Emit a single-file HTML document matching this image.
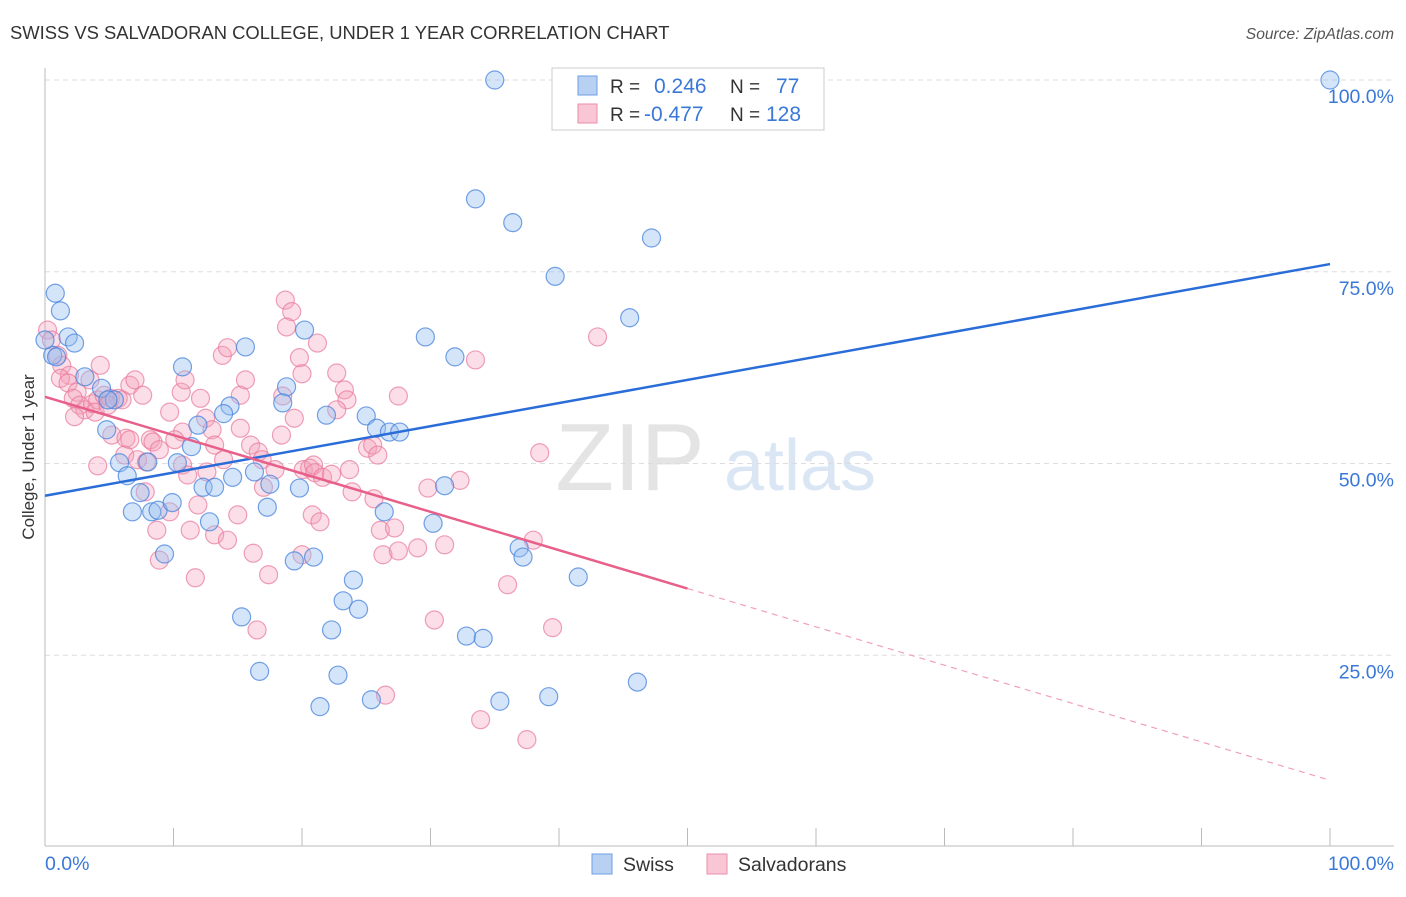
<!DOCTYPE html>
<html><head><meta charset="utf-8"><style>
body{margin:0;background:#fff;font-family:"Liberation Sans",sans-serif}
svg text{font-family:"Liberation Sans",sans-serif}
</style></head><body>
<svg id="chart" width="1406" height="892" viewBox="0 0 1406 892">
<text x="10" y="39" font-size="18.4" fill="#333">SWISS VS SALVADORAN COLLEGE, UNDER 1 YEAR CORRELATION CHART</text>
<text x="1394" y="39" font-size="15.6" fill="#555" font-style="italic" text-anchor="end">Source: ZipAtlas.com</text>
<text x="630" y="490" font-size="96" fill="#e4e4e4" font-family="Liberation Serif" text-anchor="middle">ZIP</text>
<text x="800" y="490" font-size="72" fill="#dbe6f5" text-anchor="middle">atlas</text>
<g id="grid"></g><g id="axes"></g><g id="pts"></g><g id="lines"></g>
<text transform="translate(34,457) rotate(-90)" font-size="17" fill="#333" text-anchor="middle">College, Under 1 year</text>
<g>
<rect x="552" y="68" width="272" height="62" fill="#fff" stroke="#ccc"/>
<rect x="578" y="76" width="19" height="19" fill="#b8d1f3" stroke="#6b9ee6"/>
<rect x="578" y="104" width="19" height="19" fill="#f8c6d4" stroke="#ea8eaa"/>
<text x="610" y="93" font-size="19" fill="#333">R =</text><text x="654" y="93" font-size="21" fill="#3a78d8">0.246</text>
<text x="730" y="93" font-size="19" fill="#333">N =</text><text x="776" y="93" font-size="21" fill="#3a78d8">77</text>
<text x="610" y="121" font-size="19" fill="#333">R =</text><text x="644" y="121" font-size="21" fill="#3a78d8">-0.477</text>
<text x="730" y="121" font-size="19" fill="#333">N =</text><text x="766" y="121" font-size="21" fill="#3a78d8">128</text>
</g>
<g>
<rect x="592" y="854" width="20" height="20" fill="#b8d1f3" stroke="#6b9ee6"/>
<text x="623" y="871" font-size="19.5" fill="#333">Swiss</text>
<rect x="707" y="854" width="20" height="20" fill="#f8c6d4" stroke="#ea8eaa"/>
<text x="738" y="871" font-size="19.5" fill="#333">Salvadorans</text>
</g>
</svg>
<script>
const yTicks=[25,50,75,100];
const yTickLabels=["25.0%","50.0%","75.0%","100.0%"];
const swissX=[35.0,100,33.5,36.4,47.2,39.7,45.5,0.8,1.2,1.8,2.3,0.6,3.1,4.4,5.4,10.7,15.6,20.2,18.8,18.5,14.4,13.9,11.9,21.9,25.0,25.8,26.8,27.6,29.6,31.9,4.8,5.8,6.4,10.3,11.4,8.0,7.4,6.8,8.3,8.8,9.9,12.3,13.2,14.6,16.3,17.5,17.3,19.8,12.8,9.3,15.3,16.7,19.4,20.9,22.3,23.2,24.0,24.4,22.8,21.4,25.4,26.4,30.2,31.1,32.8,34.1,35.4,36.9,37.2,39.2,41.5,46.1,0.9,0,4.9];
const swissY=[100,100,84.5,81.4,79.4,74.4,69.0,72.2,69.9,66.5,65.7,64.1,61.3,59.8,58.3,62.6,65.2,67.4,60.0,57.9,57.5,56.5,55.0,56.3,56.2,54.6,54.1,54.1,66.5,63.9,54.4,50.1,48.4,50.1,52.2,50.2,46.2,43.7,43.7,43.9,44.9,46.9,46.9,48.2,48.9,47.3,44.3,46.8,42.4,38.2,30.0,22.9,37.3,37.8,28.3,32.1,34.8,31.0,22.4,18.3,19.2,43.7,42.2,47.1,27.5,27.2,19.0,39.0,37.8,19.6,35.2,21.5,63.9,66.1,58.3];
const salvX=[0.2,0.5,1.0,1.3,1.9,1.2,1.8,2.5,3.5,4.3,2.2,2.7,3.1,3.7,4.1,4.6,5.1,5.7,6.0,2.3,3.9,4.9,6.6,5.2,6.3,6.6,7.0,7.6,8.2,8.4,8.9,6.2,7.2,7.9,4.1,7.8,8.7,8.9,9.7,10.7,9.7,10.6,10.9,10.1,10.7,11.1,11.3,11.7,11.9,12.1,12.5,12.6,13.0,13.2,13.8,14.2,13.2,13.9,14.2,15.0,15.2,15.6,15.2,16.0,16.6,16.9,16.2,16.5,17.4,17.0,18.4,17.9,18.5,18.7,19.2,18.8,19.8,20.0,19.4,20.1,20.6,20.8,21.4,20.9,21.2,21.0,21.6,22.3,20.0,22.7,23.3,23.5,22.7,23.7,23.9,25.1,25.5,25.9,25.6,26.1,27.2,26.3,27.5,29.0,26.5,27.5,29.8,31.1,32.3,30.3,33.5,36.0,33.9,38.0,38.5,39.5,37.5,43.0];
const salvY=[67.4,66.1,64.1,62.8,61.5,61.1,60.5,59.3,60.9,62.8,58.5,57.6,57.0,57.8,58.3,58.9,58.5,58.5,58.3,56.1,56.7,57.6,60.2,53.7,53.3,53.1,60.9,58.9,53.1,52.8,51.8,51.1,50.5,50.2,49.7,46.3,41.3,37.4,43.7,54.1,56.7,59.3,60.9,53.1,49.8,48.5,41.3,35.1,44.6,58.5,55.9,48.9,54.4,40.7,64.1,65.1,52.4,50.5,40.0,43.3,58.9,60.9,54.6,52.4,51.5,50.5,38.3,28.3,35.5,46.9,53.7,49.2,58.8,71.3,69.8,67.8,63.8,61.7,55.9,49.2,49.4,43.3,42.4,49.8,65.7,48.8,48.2,48.6,38.1,61.8,59.6,58.3,57.0,49.2,46.3,52.0,52.4,51.1,45.4,41.3,41.6,38.1,38.6,39.0,19.8,58.8,46.8,39.4,47.8,29.6,63.5,34.2,16.6,40.0,51.4,28.6,14.0,66.5];
const swissTrend=[45.8,76.0];
const salvTrend=[58.7,8.7];
const salvSolidEnd=50;
const NS="http://www.w3.org/2000/svg";
const X0=45,X1=1330,Y0=847,Y100=80;
const sx=v=>X0+(X1-X0)*v/100, sy=v=>Y0+(Y100-Y0)*v/100;
function mk(tag,attrs,parent){const e=document.createElementNS(NS,tag);for(const k in attrs)e.setAttribute(k,attrs[k]);document.getElementById(parent).appendChild(e);return e;}
yTicks.forEach((t,i)=>{
 const g=mk('line',{x1:X0,x2:1394,y1:sy(t),y2:sy(t),stroke:'#ddd','stroke-dasharray':'5,4'},'grid');
 
 
 const l=mk('text',{x:1394,y:sy(t)+23,'font-size':19.5,fill:'#3a78d8','text-anchor':'end'},'grid');
 l.textContent=yTickLabels[i];
 
 
});
let a=mk('line',{x1:X0,x2:X0,y1:68,y2:846,stroke:'#bbb'},'axes');


a=mk('line',{x1:X0,x2:1394,y1:846,y2:846,stroke:'#bbb'},'axes');


for(let i=1;i<=10;i++){const t=mk('line',{x1:sx(i*10),x2:sx(i*10),y1:828,y2:846,stroke:'#bbb'},'axes');
 
 }
let xl=mk('text',{x:45,y:870,'font-size':19.5,fill:'#3a78d8'},'axes');xl.textContent='0.0%';


xl=mk('text',{x:1394,y:870,'font-size':19.5,fill:'#3a78d8','text-anchor':'end'},'axes');xl.textContent='100.0%';


salvX.forEach((x,i)=>{const c=mk('circle',{cx:sx(x),cy:sy(salvY[i]),r:9,fill:'rgba(244,160,185,0.35)',stroke:'rgba(232,120,155,0.7)','stroke-width':1.2},'pts');
 
 });
swissX.forEach((x,i)=>{const c=mk('circle',{cx:sx(x),cy:sy(swissY[i]),r:9,fill:'rgba(150,190,240,0.4)',stroke:'rgba(70,130,220,0.75)','stroke-width':1.2},'pts');
 
 });
let ln=mk('line',{x1:sx(0),y1:sy(swissTrend[0]),x2:sx(100),y2:sy(swissTrend[1]),stroke:'#2a6dd9','stroke-width':2.5},'lines');


const ym=salvTrend[0]+(salvTrend[1]-salvTrend[0])*salvSolidEnd/100;
ln=mk('line',{x1:sx(0),y1:sy(salvTrend[0]),x2:sx(salvSolidEnd),y2:sy(ym),stroke:'#e8608a','stroke-width':2.5},'lines');


ln=mk('line',{x1:sx(salvSolidEnd),y1:sy(ym),x2:sx(100),y2:sy(salvTrend[1]),stroke:'#f0a0b8','stroke-width':1.2,'stroke-dasharray':'6,5'},'lines');


</script>
</body></html>
